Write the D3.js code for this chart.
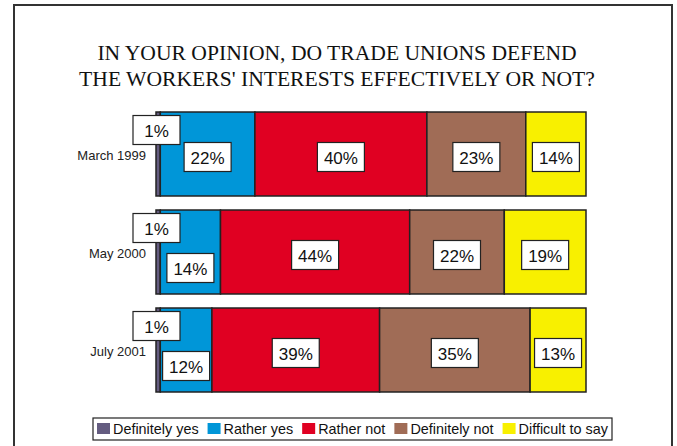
<!DOCTYPE html>
<html>
<head>
<meta charset="utf-8">
<script src="https://cdn.jsdelivr.net/npm/d3@7"></script>
<style>
  html, body { margin: 0; padding: 0; background: #fff; }
  svg { display: block; }
  .title { font-family: "Liberation Serif", "Times New Roman", "DejaVu Serif", serif; }
  .sans { font-family: Arial, "Liberation Sans", sans-serif; }
</style>
</head>
<body>
<svg id="chart" width="677" height="446"></svg>
<script>
const titleLines = ["IN YOUR OPINION, DO TRADE UNIONS DEFEND", "THE WORKERS' INTERESTS EFFECTIVELY OR NOT?"];
const categories = ["March 1999", "May 2000", "July 2001"];
const seriesNames = ["Definitely yes", "Rather yes", "Rather not", "Definitely not", "Difficult to say"];
const seriesColors = ["#645c80", "#0096d8", "#e00022", "#a06c56", "#f8f000"];
const definitelyYes = [1, 1, 1];
const ratherYes = [22, 14, 12];
const ratherNot = [40, 44, 39];
const definitelyNot = [23, 22, 35];
const difficultToSay = [14, 19, 13];

const seriesValues = [definitelyYes, ratherYes, ratherNot, definitelyNot, difficultToSay];

const svg = d3.select("#chart");

// outer frame
svg.append("rect")
  .attr("x", 14).attr("y", 5).attr("width", 658).attr("height", 460)
  .attr("fill", "none").attr("stroke", "#333").attr("stroke-width", 2);

// title
svg.append("g").selectAll("text").data(titleLines).join("text")
  .attr("class", "title")
  .attr("x", 337).attr("y", (d, i) => 60 + i * 26)
  .attr("text-anchor", "middle")
  .attr("font-size", 21.6)
  .attr("fill", "#111")
  .text(d => d);

const x = d3.scaleLinear().domain([0, 100]).range([156, 586]);
const y = d3.scaleBand().domain(categories).range([105, 399])
  .paddingInner(0.143).paddingOuter(0.0715);

// stacked data
const rows = categories.map((c, ci) => {
  const obj = { cat: c };
  seriesNames.forEach((s, si) => obj[s] = seriesValues[si][ci]);
  return obj;
});
const stacked = d3.stack().keys(seriesNames)(rows);

const color = d3.scaleOrdinal().domain(seriesNames).range(seriesColors);

const barG = svg.append("g");
stacked.forEach(layer => {
  barG.selectAll(null).data(layer).join("rect")
    .attr("x", d => x(d[0]))
    .attr("y", d => y(d.data.cat))
    .attr("width", d => x(d[1]) - x(d[0]))
    .attr("height", y.bandwidth())
    .attr("fill", color(layer.key))
    .attr("stroke", "#222")
    .attr("stroke-width", 1.5);
});

// category labels
svg.append("g").selectAll("text").data(categories).join("text")
  .attr("class", "sans")
  .attr("x", 146)
  .attr("y", d => y(d) + y.bandwidth() / 2 + 1)
  .attr("text-anchor", "end")
  .attr("dominant-baseline", "central")
  .attr("font-size", 13)
  .attr("fill", "#222")
  .text(d => d);

// value labels
const boxW = 47, boxH = 29;
const labG = svg.append("g");
categories.forEach((c, ci) => {
  const boxes = [];
  stacked.forEach((layer, li) => {
    const d = layer[ci];
    let cx = x((d[0] + d[1]) / 2);
    let cy = y(c) + y.bandwidth() / 2 + 3;
    if (li === 0) {
      cx = x(d[0]) + 0.5;
      cy = y(c) + 18;
    } else if (li === 1) {
      const prev = boxes[0];
      if (Math.abs(cx - prev.cx) < boxW) cy = y(c) + y.bandwidth() / 2 + 16;
    }
    boxes.push({ cx, cy });
    labG.append("rect")
      .attr("x", cx - boxW / 2).attr("y", cy - boxH / 2)
      .attr("width", boxW).attr("height", boxH)
      .attr("fill", "#fff").attr("stroke", "#222").attr("stroke-width", 1.2);
    labG.append("text")
      .attr("class", "sans")
      .attr("x", cx).attr("y", cy + 1)
      .attr("text-anchor", "middle")
      .attr("dominant-baseline", "central")
      .attr("font-size", 17)
      .attr("fill", "#111")
      .text((d[1] - d[0]) + "%");
  });
});

// legend
const legG = svg.append("g");
legG.append("rect")
  .attr("x", 93).attr("y", 418).attr("width", 519).attr("height", 22)
  .attr("fill", "#fff").attr("stroke", "#222").attr("stroke-width", 1.2);
let lx = 97;
seriesNames.forEach((s, i) => {
  legG.append("rect")
    .attr("x", lx).attr("y", 423).attr("width", 13).attr("height", 11)
    .attr("fill", color(s));
  const t = legG.append("text")
    .attr("class", "sans")
    .attr("x", lx + 16).attr("y", 429)
    .attr("dominant-baseline", "central")
    .attr("font-size", 14.4)
    .attr("fill", "#111")
    .text(s);
  lx += 16 + t.node().getComputedTextLength() + 9;
});
</script>
</body>
</html>
